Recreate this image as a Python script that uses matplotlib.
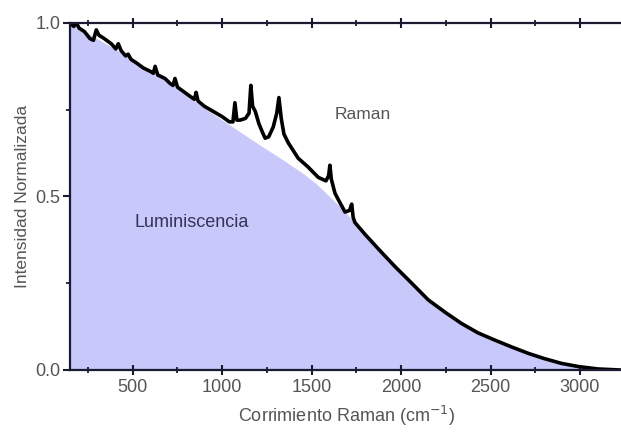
import matplotlib
matplotlib.use("Agg")
import matplotlib.pyplot as plt
from matplotlib.ticker import MultipleLocator

plt.rcParams['font.family'] = ['Liberation Sans', 'DejaVu Sans']

# Spectrum (luminescence + Raman peaks)
spec_x = [150, 170, 185, 200, 230, 260, 280, 296, 310, 340, 380, 405, 419, 435, 460, 474, 490,
          520, 560, 600, 615, 625, 640, 680, 710, 725, 736, 750, 790, 830, 845, 854, 865, 900,
          950, 1000, 1040, 1060, 1071, 1082, 1100, 1130, 1150, 1160, 1170, 1185, 1205, 1225,
          1240, 1260, 1285, 1305, 1317, 1330, 1345, 1370, 1400, 1425, 1480, 1537, 1580, 1595,
          1602, 1610, 1630, 1650, 1687, 1712, 1724, 1732, 1742, 1800, 1880, 1966, 2050, 2152,
          2250, 2338, 2430, 2525, 2620, 2711, 2800, 2897, 2990, 3100, 3225]
spec_y = [1.00, 0.99, 1.00, 0.985, 0.975, 0.955, 0.95, 0.98, 0.965, 0.955, 0.94, 0.925, 0.94,
          0.92, 0.905, 0.91, 0.895, 0.885, 0.87, 0.86, 0.855, 0.875, 0.85, 0.84, 0.825, 0.82,
          0.84, 0.815, 0.80, 0.785, 0.78, 0.80, 0.775, 0.76, 0.745, 0.73, 0.715, 0.715, 0.77,
          0.72, 0.72, 0.725, 0.74, 0.82, 0.76, 0.745, 0.71, 0.685, 0.668, 0.672, 0.70, 0.74,
          0.785, 0.725, 0.68, 0.654, 0.63, 0.61, 0.585, 0.555, 0.545, 0.56, 0.59, 0.55, 0.51,
          0.49, 0.455, 0.46, 0.478, 0.44, 0.425, 0.39, 0.345, 0.298, 0.255, 0.202, 0.165, 0.134,
          0.107, 0.086, 0.066, 0.048, 0.033, 0.019, 0.010, 0.003, 0.0]

# Luminescence background (filled area)
lum_x = [150, 300, 500, 700, 900, 1050, 1200, 1350, 1450, 1525, 1600, 1680, 1742, 1800, 1880,
         1966, 2050, 2152, 2250, 2338, 2430, 2525, 2620, 2711, 2800, 2897, 2990, 3100, 3225]
lum_y = [1.0, 0.955, 0.895, 0.83, 0.755, 0.703, 0.652, 0.602, 0.567, 0.537, 0.50, 0.46, 0.425,
         0.39, 0.345, 0.298, 0.255, 0.202, 0.165, 0.134, 0.107, 0.086, 0.066, 0.048, 0.033,
         0.019, 0.010, 0.003, 0.0]

x_ticks = [500, 1000, 1500, 2000, 2500, 3000]
y_ticks = [0.0, 0.5, 1.0]
y_ticklabels = ['0.0', '0.5', '1.0']

fig = plt.figure(figsize=(6.21, 4.33), dpi=100)
ax = fig.add_axes([0.113, 0.1455, 0.89, 0.8015])

ax.fill_between(lum_x, 0, lum_y, color='#c8c8fa', linewidth=0)
ax.plot(spec_x, spec_y, color='black', linewidth=2.6, solid_joinstyle='round')

ax.set_xlim(150, 3240)
ax.set_ylim(0, 1.0)
ax.set_xticks(x_ticks)
ax.set_yticks(y_ticks)
ax.set_yticklabels(y_ticklabels)
ax.xaxis.set_minor_locator(MultipleLocator(250))
ax.yaxis.set_minor_locator(MultipleLocator(0.25))

spine_col = '#1a1a33'
for s in ['left', 'bottom', 'top']:
    ax.spines[s].set_linewidth(1.6)
    ax.spines[s].set_color(spine_col)
ax.spines['right'].set_visible(False)

ax.tick_params(axis='x', which='major', direction='inout', length=7, width=1.5,
               color=spine_col, labelsize=13, labelcolor='#555555', pad=3, top=True)
ax.tick_params(axis='x', which='minor', direction='inout', length=4, width=1.3,
               color=spine_col, top=True)
ax.tick_params(axis='y', which='major', direction='out', length=5, width=1.5,
               color=spine_col, labelsize=13, labelcolor='#555555', pad=2)
ax.tick_params(axis='y', which='minor', direction='out', length=3, width=1.3, color=spine_col)

ax.set_xlabel('Corrimiento Raman (cm$^{-1}$)', fontsize=13, color='#555555', labelpad=6)
ax.set_ylabel('Intensidad Normalizada', fontsize=12.5, color='#555555', labelpad=4)

ax.text(150 + (363 - 71) / 0.1788, 0.735, 'Raman', fontsize=12.5, color='#555555',
        ha='center', va='center')
ax.text(150 + (192 - 71) / 0.1788, 0.425, 'Luminiscencia', fontsize=13, color='#333355',
        ha='center', va='center')

fig.savefig('out.png', dpi=100)
